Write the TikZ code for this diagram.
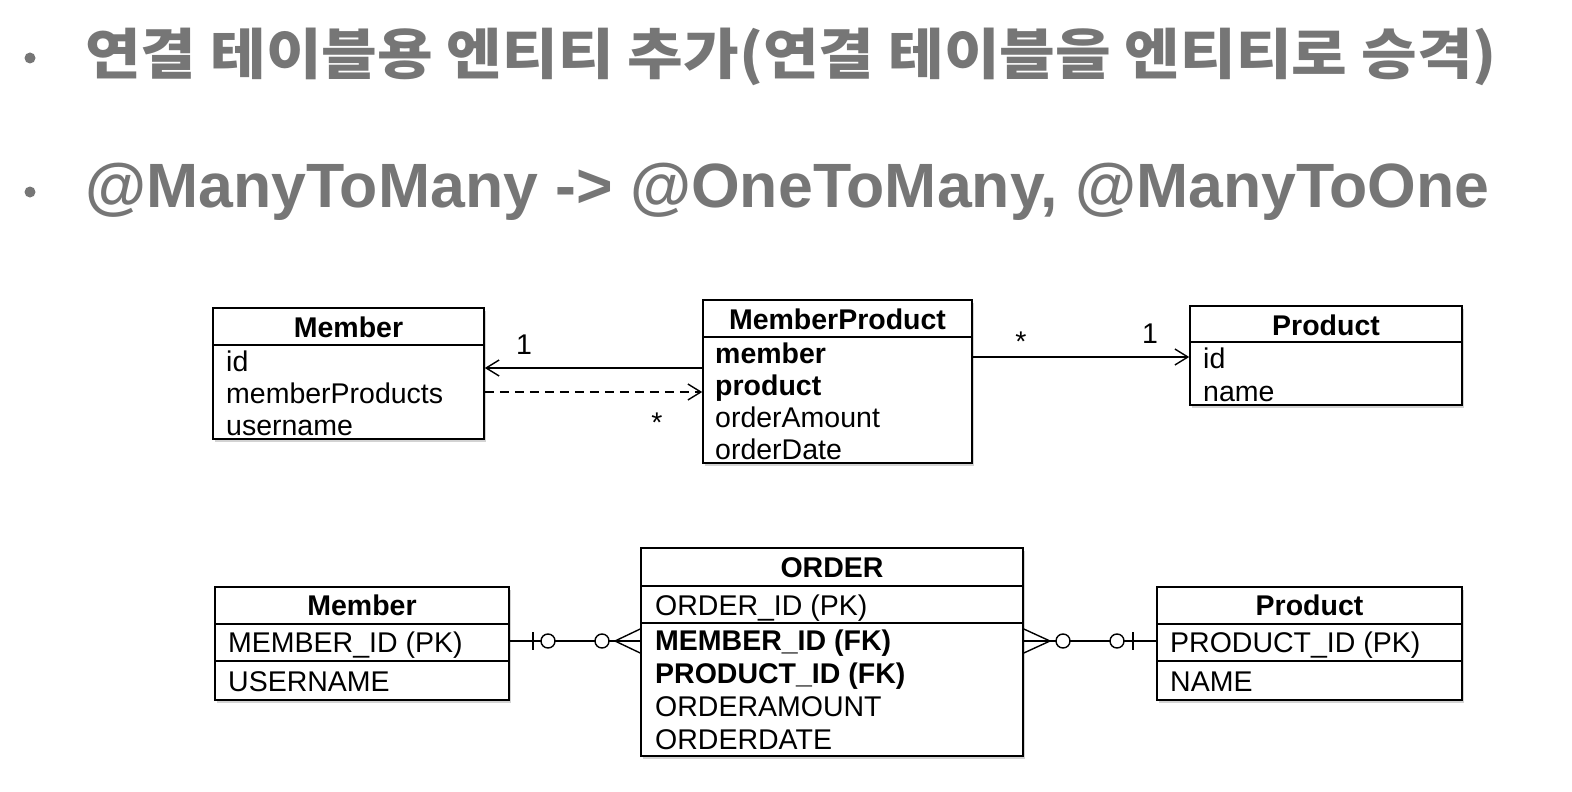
\documentclass[tikz,border=0pt]{standalone}
\usepackage{fontspec}
\setmainfont{Liberation Sans}
\newfontfamily\kofont{Noto Sans CJK KR}
\usetikzlibrary{arrows.meta,shadows}

\definecolor{titlegray}{RGB}{118,118,118}
\newcommand{\umlfont}{\fontsize{28.5}{32}\selectfont}

\tikzset{
  entity/.style={draw, line width=1.6pt, fill=white,
    drop shadow={shadow xshift=2pt, shadow yshift=-2.5pt, opacity=.35}},
  sepline/.style={line width=1.6pt},
  field/.style={anchor=west, inner sep=0pt, text height=28pt, text depth=6pt, font=\umlfont},
  header/.style={inner sep=0pt, text height=28pt, text depth=6pt, font=\umlfont\bfseries},
  mult/.style={inner sep=0pt, font=\umlfont},
  assoc/.style={line width=1.4pt, -{Straight Barb[length=13pt, width=16pt, line width=1.4pt]}},
  relline/.style={line width=1.4pt},
}

\begin{document}
\begin{tikzpicture}[x=1pt, y=-1pt]

\useasboundingbox (0,0) rectangle (1572,792);

% title lines
\fill[titlegray] (30,58) circle[radius=5.5];
\node[anchor=west, inner sep=0pt, text=titlegray, font=\fontsize{55}{60}\selectfont\kofont\bfseries] (title1) at (85,57)
  {\scalebox{1.1}[1]{연결 테이블용 엔티티 추가(연결 테이블을 엔티티로 승격)}};

\fill[titlegray] (30,192) circle[radius=5.5];
\node[anchor=west, inner sep=0pt, text=titlegray, font=\fontsize{62.6}{66}\selectfont\bfseries] (title2) at (85,192)
  {@ManyToMany -> @OneToMany, @ManyToOne};

% class diagram
\node[entity, minimum width=271, minimum height=131] (member) at (348.5,373.5) {};
\draw[sepline] (member.west |- 0,345) -- (member.east |- 0,345);
\node[header] (memberhead) at (348.5,326) {Member};
\node[field] (memberid) at (226,360) {id};
\node[field] (memberprods) at (226,392) {memberProducts};
\node[field] (membername) at (226,424) {username};

\node[entity, minimum width=269, minimum height=163] (mp) at (837.5,381.5) {};
\draw[sepline] (mp.west |- 0,337) -- (mp.east |- 0,337);
\node[header] (mphead) at (837.5,318) {MemberProduct};
\node[field, font=\umlfont\bfseries] (mpmember) at (715,352) {member};
\node[field, font=\umlfont\bfseries] (mpproduct) at (715,384) {product};
\node[field] (mpamount) at (715,416) {orderAmount};
\node[field] (mpdate) at (715,448) {orderDate};

\node[entity, minimum width=272, minimum height=99] (product) at (1326,355.5) {};
\draw[sepline] (product.west |- 0,342) -- (product.east |- 0,342);
\node[header] (producthead) at (1326,324) {Product};
\node[field] (productid) at (1203,357) {id};
\node[field] (productname) at (1203,390) {name};

\draw[assoc] (mp.west |- 0,368) -- (member.east |- 0,368);
\draw[assoc, dash pattern=on 9pt off 6pt] (member.east |- 0,392) -- (mp.west |- 0,392);
\draw[assoc] (mp.east |- 0,357) -- (product.west |- 0,357);

\node[mult] (m1one) at (524,345) {1};
\node[mult] (m1many) at (657,423) {*};
\node[mult] (p1many) at (1021,342) {*};
\node[mult] (p1one) at (1150,334) {1};

% ER diagram
\node[entity, minimum width=294, minimum height=113] (mtable) at (362,643.5) {};
\draw[sepline] (mtable.west |- 0,624) -- (mtable.east |- 0,624);
\draw[sepline] (mtable.west |- 0,661) -- (mtable.east |- 0,661);
\node[header] (mtablehead) at (362,604) {Member};
\node[field] (mtableid) at (228,641) {MEMBER\_ID (PK)};
\node[field] (mtablename) at (228,680) {USERNAME};

\node[entity, minimum width=382, minimum height=208] (order) at (832,652) {};
\draw[sepline] (order.west |- 0,586) -- (order.east |- 0,586);
\draw[sepline] (order.west |- 0,623) -- (order.east |- 0,623);
\node[header] (orderhead) at (832,566) {ORDER};
\node[field] (orderid) at (655,604) {ORDER\_ID (PK)};
\node[field, font=\umlfont\bfseries] (ordermember) at (655,639) {MEMBER\_ID (FK)};
\node[field, font=\umlfont\bfseries] (orderproduct) at (655,672) {PRODUCT\_ID (FK)};
\node[field] (orderamount) at (655,705) {ORDERAMOUNT};
\node[field] (orderdate) at (655,738) {ORDERDATE};

\node[entity, minimum width=305, minimum height=113] (ptable) at (1309.5,643.5) {};
\draw[sepline] (ptable.west |- 0,624) -- (ptable.east |- 0,624);
\draw[sepline] (ptable.west |- 0,661) -- (ptable.east |- 0,661);
\node[header] (ptablehead) at (1309.5,604) {Product};
\node[field] (ptableid) at (1170,641) {PRODUCT\_ID (PK)};
\node[field] (ptablename) at (1170,680) {NAME};

% member -- order
\draw[relline] (mtable.east |- 0,641) -- (order.west |- 0,641);
\draw[relline] (533,632) -- (533,650);
\draw[relline, fill=white] (548,641) circle[radius=7];
\draw[relline, fill=white] (602,641) circle[radius=7];
\draw[relline] (order.west |- 0,629) -- (615,641) -- (order.west |- 0,653);

% order -- product
\draw[relline] (order.east |- 0,641) -- (ptable.west |- 0,641);
\draw[relline] (order.east |- 0,629) -- (1050,641) -- (order.east |- 0,653);
\draw[relline, fill=white] (1063,641) circle[radius=7];
\draw[relline, fill=white] (1117,641) circle[radius=7];
\draw[relline] (1133,632) -- (1133,650);

\end{tikzpicture}
\end{document}
